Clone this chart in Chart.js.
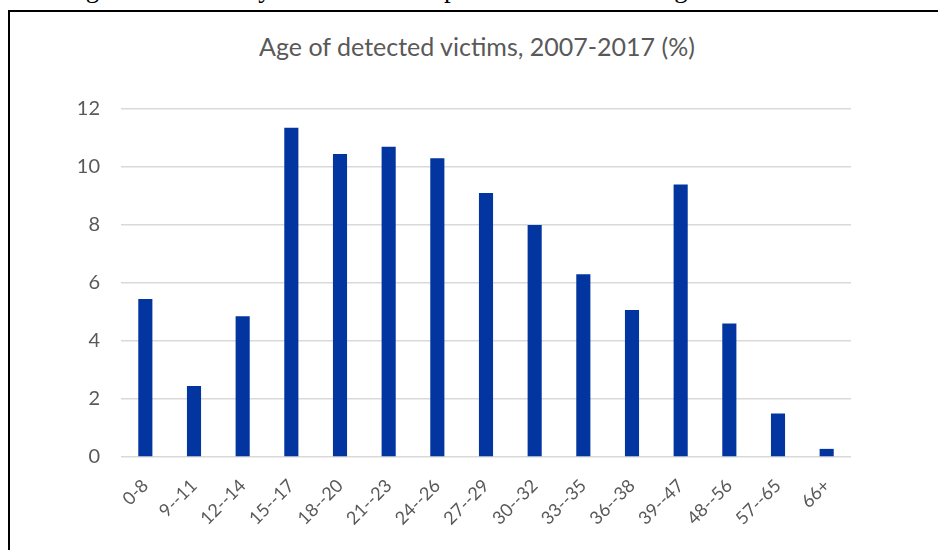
<!DOCTYPE html>
<html>
<head>
<meta charset="utf-8">
<script src="https://cdn.jsdelivr.net/npm/chart.js@4/dist/chart.umd.min.js"></script>
<style>
  html, body { margin: 0; padding: 0; background: #fff; overflow: hidden; }
  body { width: 938px; height: 550px; position: relative; }
  #intro { position: absolute; left: 0; top: -27px; white-space: nowrap; letter-spacing: 0.6px;
           font-family: "Liberation Serif", serif; font-size: 27px; color: #000; }
  #frame { position: absolute; left: 8px; top: 10px; width: 960px; height: 560px;
           border-left: 2px solid #000; border-top: 2px solid #000; }
  #title { position: absolute; left: 0; width: 954px; top: 31px; text-align: center;
           font-family: Lato, sans-serif; font-size: 25px; color: #595959; }
  #wrap { position: absolute; left: 0; top: 0; width: 938px; height: 550px; }
</style>
</head>
<body>
<div id="intro">of the age of under 18 years which are presented in the image below.</div>
<div id="frame"></div>
<div id="title">Age of detected victims, 2007-2017 (%)</div>
<div id="wrap"><canvas id="ages"></canvas></div>
<script>
// age groups and share of detected victims (%)
const ageGroups = ['0-8', '9--11', '12--14', '15--17', '18--20', '21--23', '24--26', '27--29',
                   '30--32', '33--35', '36--38', '39--47', '48--56', '57--65', '66+'];
const victimShare = [5.45, 2.45, 4.85, 11.35, 10.45, 10.7, 10.3, 9.1, 8.0, 6.3, 5.07, 9.4, 4.6, 1.5, 0.28];
const yTicks = [0, 2, 4, 6, 8, 10, 12];

const grey = '#595959';

new Chart(document.getElementById('ages'), {
    type: 'bar',
    data: {
        labels: ageGroups,
        datasets: [{
            data: victimShare,
            backgroundColor: '#0335a0',
            barPercentage: 0.29,
            categoryPercentage: 1
        }]
    },
    options: {
        responsive: true,
        maintainAspectRatio: false,
        animation: false,
        layout: { padding: { left: 0, right: 87, top: 109, bottom: 0 } },
        plugins: {
            legend: { display: false },
            tooltip: { enabled: false },
            title: { display: false }
        },
        scales: {
            x: {
                grid: { display: false },
                border: { display: false },
                ticks: {
                    color: grey,
                    font: { family: 'Lato', size: 18 },
                    minRotation: 45,
                    maxRotation: 45,
                    padding: 10,
                    autoSkip: false
                },
                afterFit: (scale) => { scale.height = 93; }
            },
            y: {
                min: 0,
                max: 12,
                afterBuildTicks: (scale) => { scale.ticks = yTicks.map(v => ({ value: v })); },
                grid: { color: '#d9d9d9', lineWidth: 1.5, drawTicks: false },
                border: { display: false },
                ticks: {
                    color: grey,
                    font: { family: 'Lato', size: 20 },
                    padding: 21
                },
                afterFit: (scale) => { scale.width = 121; }
            }
        }
    }
});
</script>
</body>
</html>
